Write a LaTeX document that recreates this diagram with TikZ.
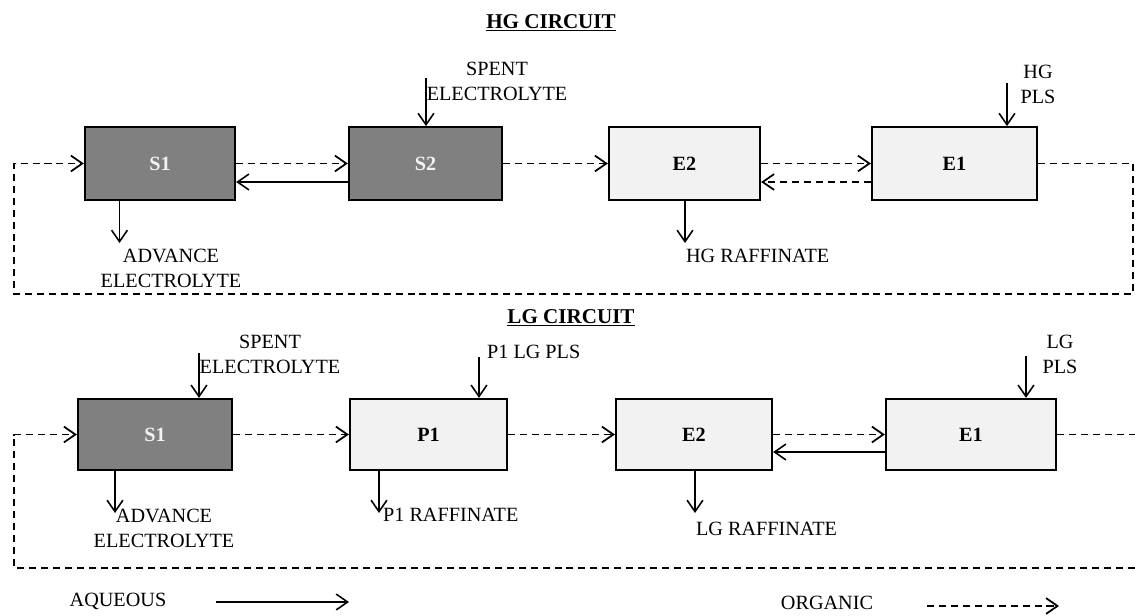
\documentclass[tikz,border=0pt]{standalone}
\usepackage{fontspec}
\setmainfont{Liberation Serif}
\usetikzlibrary{arrows.meta}
\definecolor{stripgray}{HTML}{808080}
\definecolor{extractgray}{HTML}{F2F2F2}
\begin{document}
\begin{tikzpicture}[x=0.02cm, y=-0.02cm,
  >={Straight Barb[length=6.5pt,width=9pt]},
  every node/.style={font=\fontsize{11.5}{14.2}\selectfont},
  stage/.style={draw, rectangle, line width=1.3pt, minimum height=1.45cm, font=\fontsize{11.5}{14.2}\selectfont\bfseries},
  strip/.style={stage, fill=stripgray, text=extractgray},
  extract/.style={stage, fill=extractgray},
  aq/.style={->, line width=0.9pt},
  org/.style={->, line width=1pt, dash pattern=on 4pt off 2.8pt},
  plainorg/.style={line width=1pt, dash pattern=on 4pt off 2.8pt},
  streamtext/.style={align=center},
  circuittitle/.style={font=\fontsize{12}{14}\selectfont\bfseries}]
\useasboundingbox (0,0) rectangle (1135,615);

% HG circuit
\node[circuittitle] (hgtitle) at (551,23) {\underline{HG CIRCUIT}};
\node[strip, minimum width=3cm] (hgS1) at (160,163.5) {S1};
\node[strip, minimum width=3.06cm] (hgS2) at (425.5,163.5) {S2};
\node[extract, minimum width=3.02cm] (hgE2) at (684.5,163.5) {E2};
\node[extract, minimum width=3.3cm] (hgE1) at (954.5,163.5) {E1};
\node[streamtext] (hgspenttext) at (497,81) {SPENT\\ELECTROLYTE};
\node[streamtext] (hgadvtext) at (171,268) {ADVANCE\\ELECTROLYTE};
\node[anchor=west, inner sep=1pt] (hgraftext) at (684,256) {HG RAFFINATE};
\node[streamtext] (hgplstext) at (1038,84) {HG\\PLS};
\coordinate (hgspent) at (426,78);
\coordinate (hgadv) at (119.5,243);
\coordinate (hgraf) at (685,243);
\coordinate (hgpls) at (1007,83);
\coordinate (hgret) at (0,182);
\coordinate (hgBR) at (1133,294);
\coordinate (hgBL) at (14,294);
\draw[org] (hgS1) -- (hgS2);
\draw[org] (hgS2) -- (hgE2);
\draw[org] (hgE2) -- (hgE1);
\draw[aq] (hgS2.west |- hgret) -- (hgS1.east |- hgret);
\draw[org] (hgE1.west |- hgret) -- (hgE2.east |- hgret);
\draw[aq] (hgspent) -- (hgspent |- hgS2.north);
\draw[aq] (hgpls) -- (hgpls |- hgE1.north);
\draw[aq] (hgadv |- hgS1.south) -- (hgadv);
\draw[aq] (hgraf |- hgE2.south) -- (hgraf);
\draw[org] (hgE1.east) -| (hgBR) -- (hgBL) |- (hgS1.west);

% LG circuit
\node[circuittitle] (lgtitle) at (571,318) {\underline{LG CIRCUIT}};
\node[strip, minimum width=3.08cm, minimum height=1.42cm] (lgS1) at (155,434.5) {S1};
\node[extract, minimum width=3.14cm, minimum height=1.42cm] (lgP1) at (428.5,434.5) {P1};
\node[extract, minimum width=3.12cm, minimum height=1.42cm] (lgE2) at (694,434.5) {E2};
\node[extract, minimum width=3.4cm, minimum height=1.42cm] (lgE1) at (971,434.5) {E1};
\node[streamtext] (lgspenttext) at (270,354) {SPENT\\ELECTROLYTE};
\node[anchor=west, inner sep=1pt] (lgp1plstext) at (485,352) {P1 LG PLS};
\node[streamtext] (lgadvtext) at (164,528) {ADVANCE\\ELECTROLYTE};
\node[anchor=west, inner sep=1pt] (lgp1raftext) at (381,515) {P1 RAFFINATE};
\node[anchor=west, inner sep=1pt] (lgraftext) at (694,529) {LG RAFFINATE};
\node[streamtext] (lgplstext) at (1060,354) {LG\\PLS};
\coordinate (lgspent) at (199,353);
\coordinate (lgp1pls) at (479,357);
\coordinate (lgadv) at (115,513);
\coordinate (lgp1raf) at (379,513);
\coordinate (lgraf) at (695,513);
\coordinate (lgpls) at (1026,356);
\coordinate (lgret) at (0,452);
\coordinate (lgedge) at (1135,434.5);
\coordinate (lgBR) at (1135,568);
\coordinate (lgBL) at (14,568);
\draw[org] (lgS1) -- (lgP1);
\draw[org] (lgP1) -- (lgE2);
\draw[org] (lgE2) -- (lgE1);
\draw[aq] (lgE1.west |- lgret) -- (lgE2.east |- lgret);
\draw[aq] (lgspent) -- (lgspent |- lgS1.north);
\draw[aq] (lgp1pls) -- (lgp1pls |- lgP1.north);
\draw[aq] (lgpls) -- (lgpls |- lgE1.north);
\draw[aq] (lgadv |- lgS1.south) -- (lgadv);
\draw[aq] (lgp1raf |- lgP1.south) -- (lgp1raf);
\draw[aq] (lgraf |- lgE2.south) -- (lgraf);
\draw[plainorg] (lgE1.east) -- (lgedge);
\draw[org] (lgBR) -- (lgBL) |- (lgS1.west);

% legend
\node (aqtext) at (118,601) {AQUEOUS};
\node (orgtext) at (827,603) {ORGANIC};
\coordinate (aqA) at (216,602);
\coordinate (aqB) at (349,602);
\coordinate (orgA) at (927,606);
\coordinate (orgB) at (1059,606);
\draw[aq] (aqA) -- (aqB);
\draw[org] (orgA) -- (orgB);
\end{tikzpicture}
\end{document}
